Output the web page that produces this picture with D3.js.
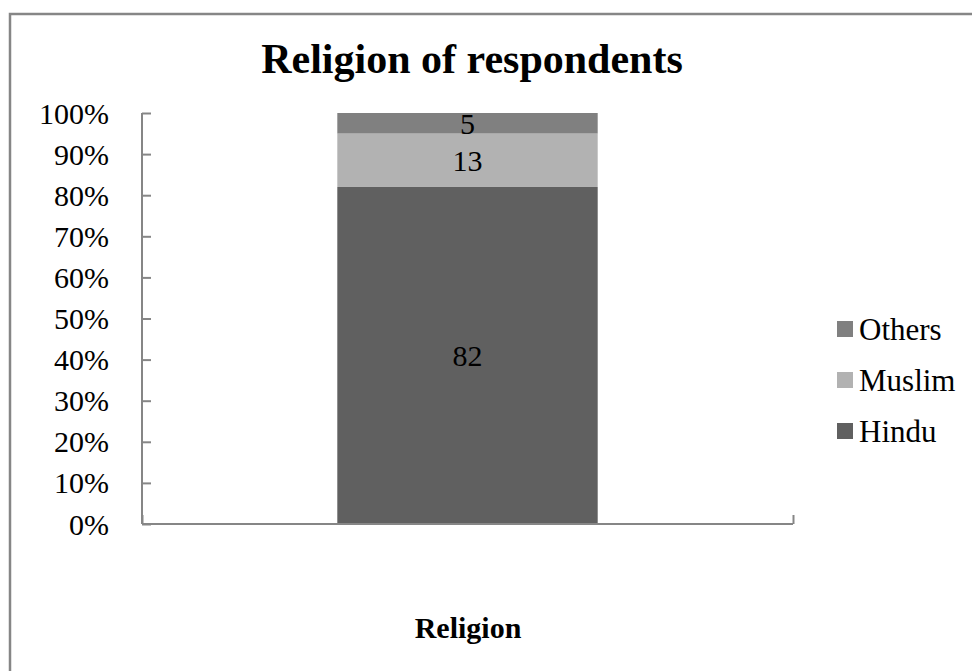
<!DOCTYPE html>
<html>
<head>
<meta charset="utf-8">
<script src="https://cdn.jsdelivr.net/npm/d3@7"></script>
<style>
  html, body { margin: 0; padding: 0; background: #fff; }
  svg { display: block; font-family: "Liberation Serif", "Times New Roman", serif; }
</style>
</head>
<body>
<svg id="chart" width="972" height="671"></svg>
<script>
// Stacked 100% column: religion of respondents
const categories = ["Religion"];
const seriesNames = ["Hindu", "Muslim", "Others"];
const hindu = [82];
const muslim = [13];
const others = [5];
const yTicks = [0, 10, 20, 30, 40, 50, 60, 70, 80, 90, 100];
const colors = ["#606060", "#b2b2b2", "#808080"];

const svg = d3.select("#chart");
const W = 972, H = 671;

// outer chart frame
svg.append("rect")
  .attr("x", 10).attr("y", 14)
  .attr("width", W + 20).attr("height", H + 20)
  .attr("fill", "none").attr("stroke", "#868686").attr("stroke-width", 2.5);

const plot = { left: 142, right: 793, top: 113, bottom: 524 };

const x = d3.scaleBand().domain(categories)
  .range([plot.left, plot.right]).paddingInner(0).paddingOuter(0.75);
const y = d3.scaleLinear().domain([0, 100]).range([plot.bottom, plot.top]);

const rows = categories.map((c, i) => ({ cat: c, Hindu: hindu[i], Muslim: muslim[i], Others: others[i] }));
const stack = d3.stack().keys(seriesNames).offset(d3.stackOffsetExpand)(rows);

// bars
const layers = svg.append("g").selectAll("g").data(stack).join("g")
  .attr("fill", (d, i) => colors[i]);
layers.selectAll("rect").data(d => d).join("rect")
  .attr("x", d => x(d.data.cat))
  .attr("width", x.bandwidth())
  .attr("y", d => y(d[1] * 100))
  .attr("height", d => y(d[0] * 100) - y(d[1] * 100));

// value labels
layers.each(function(layer) {
  d3.select(this).selectAll("text").data(layer).join("text")
    .attr("x", d => x(d.data.cat) + x.bandwidth() / 2)
    .attr("y", d => y((d[0] + d[1]) / 2 * 100))
    .attr("dy", "0.35em")
    .attr("text-anchor", "middle")
    .attr("font-size", 30)
    .attr("fill", "#000")
    .text(d => d.data[layer.key]);
});

// y axis (ticks point inward)
const yAxis = d3.axisRight(y).tickValues(yTicks).tickSize(9).tickFormat("");
const yg = svg.append("g").attr("transform", `translate(${plot.left},0)`).call(yAxis);
yg.select(".domain").attr("d", `M0,${plot.top}V${plot.bottom}`);
yg.selectAll("path, line").attr("stroke", "#868686").attr("stroke-width", 2);

svg.append("g").selectAll("text").data(yTicks).join("text")
  .attr("x", 109).attr("y", d => y(d)).attr("dy", "0.35em")
  .attr("text-anchor", "end").attr("font-size", 30).attr("fill", "#000")
  .text(d => d + "%");

// x axis
const xAxis = d3.axisTop(d3.scaleLinear().domain([0, 1]).range([plot.left, plot.right]))
  .tickValues([0, 1]).tickSize(9).tickFormat("");
const xg = svg.append("g").attr("transform", `translate(0,${plot.bottom})`).call(xAxis);
xg.select(".domain").attr("d", `M${plot.left},0H${plot.right}`);
xg.selectAll("path, line").attr("stroke", "#868686").attr("stroke-width", 2);

// titles
svg.append("text").attr("x", 472).attr("y", 73).attr("text-anchor", "middle")
  .attr("font-size", 42).attr("font-weight", "bold").text("Religion of respondents");
svg.append("text").attr("x", 468).attr("y", 638).attr("text-anchor", "middle")
  .attr("font-size", 30).attr("font-weight", "bold").text("Religion");

// legend (top to bottom: Others, Muslim, Hindu)
const legendItems = seriesNames.map((n, i) => ({ name: n, color: colors[i] })).reverse();
const lg = svg.append("g").selectAll("g").data(legendItems).join("g")
  .attr("transform", (d, i) => `translate(837, ${329 + i * 51})`);
lg.append("rect").attr("x", 0).attr("y", -8).attr("width", 16).attr("height", 16)
  .attr("fill", d => d.color);
lg.append("text").attr("x", 22).attr("y", 0).attr("dy", "0.35em")
  .attr("font-size", 31).attr("fill", "#000").text(d => d.name);
</script>
</body>
</html>
